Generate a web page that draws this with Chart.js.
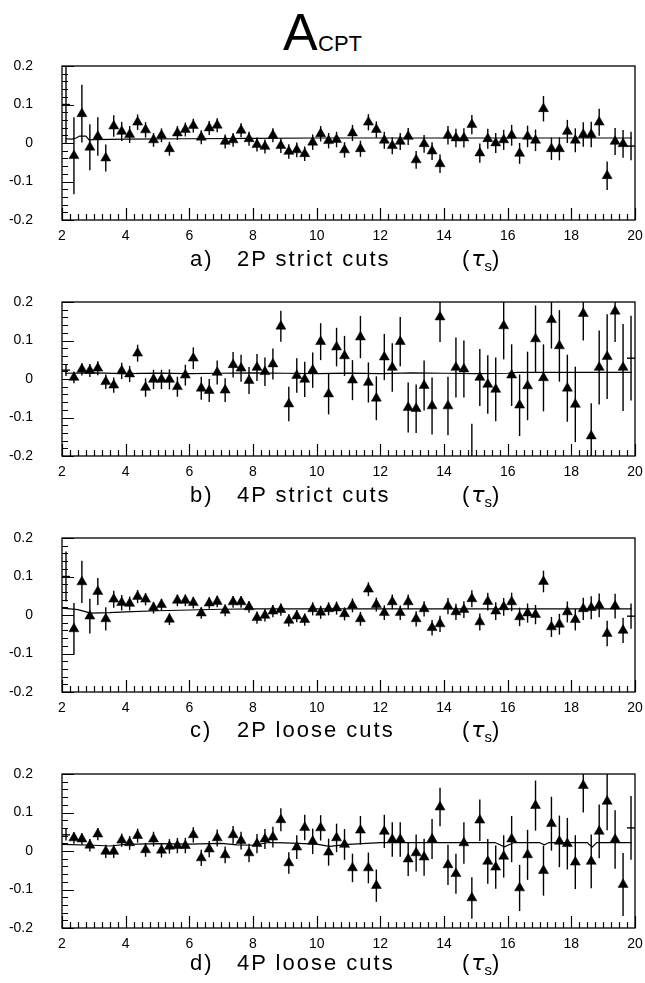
<!DOCTYPE html>
<html><head><meta charset="utf-8">
<script src="https://cdn.jsdelivr.net/npm/chart.js@4.4.1/dist/chart.umd.min.js"></script>
<style>
html,body{margin:0;padding:0;background:#fff;}
body{width:645px;height:983px;position:relative;overflow:hidden;font-family:"Liberation Sans",Arial,sans-serif;color:#000;}
.panel{position:absolute;left:0;width:645px;}
.t{position:absolute;white-space:nowrap;line-height:1;}
.sub{font-size:22px;letter-spacing:2px;}
</style></head><body>
<div class="t" style="left:283px;top:6px;font-size:52px;">A</div>
<div class="t" style="left:318px;top:33px;font-size:22px;">CPT</div>

<div class="panel" id="pa" style="top:56px;height:194px;"><canvas id="ca" width="645" height="194"></canvas></div>
<div class="panel" id="pb" style="top:292px;height:194px;"><canvas id="cb" width="645" height="194"></canvas></div>
<div class="panel" id="pc" style="top:528px;height:194px;"><canvas id="cc" width="645" height="194"></canvas></div>
<div class="panel" id="pd" style="top:764px;height:194px;"><canvas id="cd" width="645" height="194"></canvas></div>

<div id="subs"></div>

<script>
// ---------- data ----------
const tau = [2.375,2.625,2.875,3.125,3.375,3.625,3.875,4.125,4.375,4.625,4.875,5.125,5.375,5.625,5.875,6.125,6.375,6.625,6.875,7.125,7.375,7.625,7.875,8.125,8.375,8.625,8.875,9.125,9.375,9.625,9.875,10.125,10.375,10.625,10.875,11.125,11.375,11.625,11.875,12.125,12.375,12.625,12.875,13.125,13.375,13.625,13.875,14.125,14.375,14.625,14.875,15.125,15.375,15.625,15.875,16.125,16.375,16.625,16.875,17.125,17.375,17.625,17.875,18.125,18.375,18.625,18.875,19.125,19.375,19.625];

const aVals = [-0.033,0.076,-0.011,0.017,-0.039,0.044,0.03,0.022,0.054,0.034,0.008,0.02,-0.015,0.026,0.035,0.045,0.015,0.039,0.046,0.004,0.008,0.033,0.011,-0.004,-0.009,0.02,-0.007,-0.022,-0.018,-0.028,0.002,0.024,0.006,0.009,
-0.018,0.026,-0.015,0.054,0.035,0.007,-0.007,0.004,0.017,-0.044,-0.002,-0.021,-0.054,0.02,0.013,0.013,0.048,-0.026,0.011,0.0,0.008,0.02,-0.027,0.017,0.007,0.089,-0.015,-0.015,0.03,0.007,0.022,0.022,0.054,-0.085,0.004,-0.002];
const aErrs = [0.1,0.075,0.06,0.05,0.035,0.028,0.025,0.022,0.02,0.02,0.018,0.018,0.018,0.018,0.018,0.018,0.018,0.018,0.018,0.018,0.018,0.018,0.018,0.018,0.018,0.018,0.019,0.019,0.019,0.019,0.02,0.02,0.02,0.02,
0.02,0.021,0.021,0.021,0.021,0.022,0.022,0.022,0.022,0.023,0.023,0.023,0.024,0.024,0.024,0.025,0.025,0.025,0.026,0.026,0.026,0.027,0.027,0.028,0.028,0.033,0.029,0.03,0.03,0.031,0.032,0.033,0.035,0.037,0.035,0.036];

const bVals = [0.004,0.025,0.022,0.028,-0.007,-0.016,0.021,0.013,0.067,-0.022,-0.001,-0.001,-0.001,-0.02,0.01,0.054,-0.024,-0.03,0.017,-0.029,0.037,0.028,-0.004,0.03,0.019,0.039,0.137,-0.065,0.009,-0.001,0.023,0.097,-0.039,0.083,
0.06,-0.003,0.109,-0.009,-0.05,0.057,0.03,0.097,-0.074,-0.077,-0.017,-0.07,0.161,-0.07,0.03,0.026,-0.225,0.004,-0.014,-0.027,0.138,0.01,-0.068,-0.018,0.104,0.003,0.154,0.086,-0.024,-0.066,0.17,-0.148,0.03,0.058,0.176,0.03];
const bErrs = [0.015,0.016,0.017,0.018,0.019,0.02,0.021,0.021,0.022,0.024,0.025,0.025,0.026,0.026,0.027,0.028,0.03,0.03,0.031,0.031,0.033,0.035,0.035,0.035,0.037,0.04,0.04,0.045,0.045,0.046,0.046,0.048,0.053,0.05,
0.052,0.052,0.055,0.052,0.057,0.06,0.063,0.064,0.065,0.063,0.065,0.074,0.065,0.076,0.078,0.074,0.109,0.074,0.076,0.083,0.087,0.08,0.08,0.089,0.087,0.087,0.075,0.093,0.087,0.098,0.07,0.085,0.096,0.11,0.08,0.113];

const cVals = [-0.036,0.086,-0.003,0.061,-0.01,0.041,0.032,0.03,0.048,0.041,0.019,0.027,-0.011,0.038,0.038,0.032,0.005,0.031,0.035,0.012,0.034,0.034,0.021,-0.007,-0.001,0.01,0.014,-0.014,-0.003,-0.012,0.016,0.007,0.016,0.018,
0.003,0.025,-0.01,0.067,0.027,0.006,0.034,0.006,0.034,-0.01,0.016,-0.033,-0.023,0.023,0.008,0.014,0.042,-0.018,0.035,0.01,0.021,0.034,-0.005,0.005,0.001,0.087,-0.031,-0.024,0.008,-0.012,0.016,0.019,0.025,-0.048,0.023,-0.04];
const cErrs = [0.067,0.055,0.045,0.035,0.03,0.022,0.02,0.018,0.017,0.016,0.015,0.015,0.015,0.015,0.015,0.015,0.015,0.015,0.015,0.015,0.015,0.015,0.015,0.016,0.016,0.016,0.016,0.016,0.016,0.016,0.017,0.017,0.017,0.017,
0.017,0.018,0.018,0.018,0.018,0.019,0.019,0.019,0.019,0.02,0.02,0.02,0.021,0.021,0.021,0.022,0.022,0.022,0.023,0.023,0.023,0.024,0.024,0.025,0.025,0.028,0.026,0.027,0.027,0.028,0.029,0.03,0.031,0.033,0.032,0.033];

const dVals = [0.034,0.031,0.015,0.044,-0.001,-0.001,0.028,0.021,0.04,0.003,0.031,0.002,0.012,0.014,0.014,0.042,-0.018,0.005,0.034,-0.01,0.042,0.027,-0.005,0.019,0.031,0.036,0.081,-0.031,0.01,0.061,0.025,0.06,-0.003,0.034,
0.017,-0.044,0.054,-0.044,-0.09,0.051,0.03,0.03,-0.021,-0.005,-0.016,0.031,0.114,-0.036,-0.059,0.021,-0.122,0.08,-0.027,-0.042,-0.014,0.031,-0.096,-0.01,0.118,-0.051,0.071,0.025,0.019,-0.029,0.17,-0.027,0.051,0.129,0.03,-0.087];
const dErrs = [0.015,0.015,0.016,0.016,0.017,0.017,0.017,0.018,0.018,0.018,0.019,0.019,0.019,0.02,0.02,0.02,0.021,0.021,0.022,0.022,0.023,0.023,0.024,0.025,0.026,0.027,0.03,0.028,0.031,0.033,0.033,0.033,0.035,0.037,
0.04,0.037,0.037,0.04,0.042,0.043,0.045,0.045,0.044,0.048,0.048,0.052,0.05,0.052,0.052,0.054,0.054,0.054,0.058,0.056,0.055,0.06,0.06,0.065,0.065,0.065,0.07,0.067,0.067,0.07,0.07,0.07,0.07,0.075,0.076,0.082];

// edge bins (error bar only)
const edgeX = [2.125, 19.875];
const aEdgeVals = [0.1, -0.008],  aEdgeErrs = [0.1, 0.037];
const bEdgeVals = [0.023, 0.054], bEdgeErrs = [0.015, 0.11];
const cEdgeVals = [0.1, -0.003],  cEdgeErrs = [0.065, 0.033];
const dEdgeVals = [0.042, 0.06],  dEdgeErrs = [0.015, 0.083];

// fitted curves
const fitAx = [2.1,2.3,2.45,2.55,2.75,2.85,3.0,4.0,6.0,8.0,10.0,12.0,14.0,16.0,18.0,19.9];
const fitAy = [0.011,0.01,0.013,0.018,0.018,0.008,0.009,0.01,0.011,0.012,0.013,0.013,0.013,0.013,0.013,0.013];
const fitBx = [2.1,3,4,5,6,7,8,9,10,11,12,13,14,15,16,16.3,18,19.9];
const fitBy = [0.015,0.016,0.014,0.015,0.014,0.015,0.016,0.015,0.014,0.015,0.014,0.016,0.015,0.014,0.015,0.017,0.017,0.017];
const fitCx = [2.0,2.5,2.9,3.5,4.0,5.0,6.0,7.0,8.0,10.0,12.0,14.0,16.0,18.0,19.9];
const fitCy = [0.018,0.014,0.005,0.006,0.008,0.011,0.013,0.015,0.016,0.016,0.016,0.016,0.016,0.016,0.016];
const fitDx = [2.0,3.0,3.5,4.0,5.0,6.0,7.0,7.5,8.0,8.5,9.0,10.0,10.4,11.0,12.0,15.6,15.9,16.2,17.0,17.15,17.3,18.5,18.65,18.8,19.9];
const fitDy = [0.017,0.015,0.013,0.017,0.019,0.018,0.02,0.016,0.015,0.022,0.021,0.018,0.012,0.017,0.022,0.022,0.011,0.022,0.022,0.016,0.022,0.022,0.01,0.022,0.022];

const xTickLabels = ['2','4','6','8','10','12','14','16','18','20'];
const yTickLabels = ['-0.2','-0.1','0','0.1','0.2'];
const panelLetters = ['a)','b)','c)','d)'];
const panelTitles = ['2P strict cuts','4P strict cuts','2P loose cuts','4P loose cuts'];

// ---------- drawing ----------
const FONT = '"Liberation Sans", Arial, sans-serif';

const deco = {
  id: 'deco',
  afterDatasetsDraw(chart) {
    const {ctx, chartArea: a, scales: {x, y}} = chart;
    ctx.save();
    ctx.beginPath();
    ctx.rect(a.left, a.top, a.right - a.left, a.bottom - a.top);
    ctx.clip();
    ctx.strokeStyle = '#000';
    ctx.lineWidth = 1.4;
    chart.data.datasets.forEach(ds => {
      if (!ds.errs) return;
      ds.data.forEach((p, i) => {
        const px = x.getPixelForValue(p.x);
        const y1 = y.getPixelForValue(p.y - ds.errs[i]);
        const y2 = y.getPixelForValue(p.y + ds.errs[i]);
        ctx.beginPath(); ctx.moveTo(px, y1); ctx.lineTo(px, y2); ctx.stroke();
        if (ds.cross) {
          const py = y.getPixelForValue(p.y);
          ctx.beginPath(); ctx.moveTo(px - 4, py); ctx.lineTo(px + 4, py); ctx.stroke();
        }
      });
    });
    ctx.restore();
  },
  afterDraw(chart) {
    const {ctx, chartArea: a, scales: {x, y}} = chart;
    ctx.save();
    ctx.strokeStyle = '#000';
    ctx.lineWidth = 1.3;
    ctx.strokeRect(a.left, a.top, a.right - a.left, a.bottom - a.top);
    ctx.lineWidth = 1.2;
    ctx.beginPath();
    for (let k = 0; k <= 72; k++) {
      const v = 2 + k * 0.25;
      const px = Math.round(x.getPixelForValue(v)) + 0.5;
      const len = (k % 8 === 0) ? 12 : 6;
      ctx.moveTo(px, a.bottom); ctx.lineTo(px, a.bottom - len);
    }
    for (let k = 0; k <= 20; k++) {
      const v = -0.2 + k * 0.02;
      const py = Math.round(y.getPixelForValue(v)) + 0.5;
      const len = (k % 5 === 0) ? 12 : 6;
      ctx.moveTo(a.left, py); ctx.lineTo(a.left + len, py);
    }
    ctx.stroke();
    ctx.restore();
  }
};

function makeChart(id, vals, errs, eVals, eErrs, fx, fy) {
  const pts = tau.map((t, i) => ({x: t, y: vals[i]}));
  const edge = edgeX.map((t, i) => ({x: t, y: eVals[i]}));
  const fit = fx.map((t, i) => ({x: t, y: fy[i]}));
  return new Chart(document.getElementById(id), {
    type: 'scatter',
    data: {
      datasets: [
        {data: fit, showLine: true, borderColor: '#000', borderWidth: 1.2, pointRadius: 0, tension: 0, fill: false},
        {data: pts, errs: errs, pointStyle: 'triangle', pointRadius: 5.8, backgroundColor: '#000', borderColor: '#000', borderWidth: 0.5},
        {data: edge, errs: eErrs, cross: true, pointRadius: 0, borderColor: '#000'}
      ]
    },
    options: {
      responsive: false,
      animation: false,
      devicePixelRatio: 1,
      layout: {padding: {top: 10, right: 10, left: 0, bottom: 0}},
      plugins: {legend: {display: false}, tooltip: {enabled: false}},
      scales: {
        x: {
          type: 'linear', position: 'bottom', min: 2, max: 20,
          grid: {display: false, drawTicks: true, tickLength: 8},
          border: {display: false},
          afterFit(s) { s.height = 30; },
          ticks: {stepSize: 2, padding: 0, color: '#000', font: {family: FONT, size: 14},
                  maxRotation: 0, autoSkip: false,
                  callback: (v, i) => xTickLabels[i]}
        },
        y: {
          type: 'linear', position: 'left', min: -0.2, max: 0.2,
          grid: {display: false, drawTicks: true, tickLength: 29},
          border: {display: false},
          afterFit(s) { s.width = 62; },
          ticks: {stepSize: 0.1, padding: 0, color: '#000', font: {family: FONT, size: 14},
                  callback: (v, i) => yTickLabels[i]}
        }
      }
    },
    plugins: [deco]
  });
}

makeChart('ca', aVals, aErrs, aEdgeVals, aEdgeErrs, fitAx, fitAy);
makeChart('cb', bVals, bErrs, bEdgeVals, bEdgeErrs, fitBx, fitBy);
makeChart('cc', cVals, cErrs, cEdgeVals, cEdgeErrs, fitCx, fitCy);
makeChart('cd', dVals, dErrs, dEdgeVals, dEdgeErrs, fitDx, fitDy);

// subtitles
const subCenters = [259, 495, 730, 963];
const subs = document.getElementById('subs');
subCenters.forEach((c, i) => {
  const mk = (left, html) => {
    const d = document.createElement('div');
    d.className = 't sub';
    d.style.left = left + 'px';
    d.style.top = (c - 11) + 'px';
    d.innerHTML = html;
    subs.appendChild(d);
  };
  mk(190, panelLetters[i]);
  mk(237, panelTitles[i]);
  mk(462, '(<span style="font-family:\'DejaVu Sans\';font-style:italic;letter-spacing:0">τ</span><span style="font-size:15px;position:relative;top:5px;letter-spacing:0">s</span>)');
});
</script>
</body></html>
